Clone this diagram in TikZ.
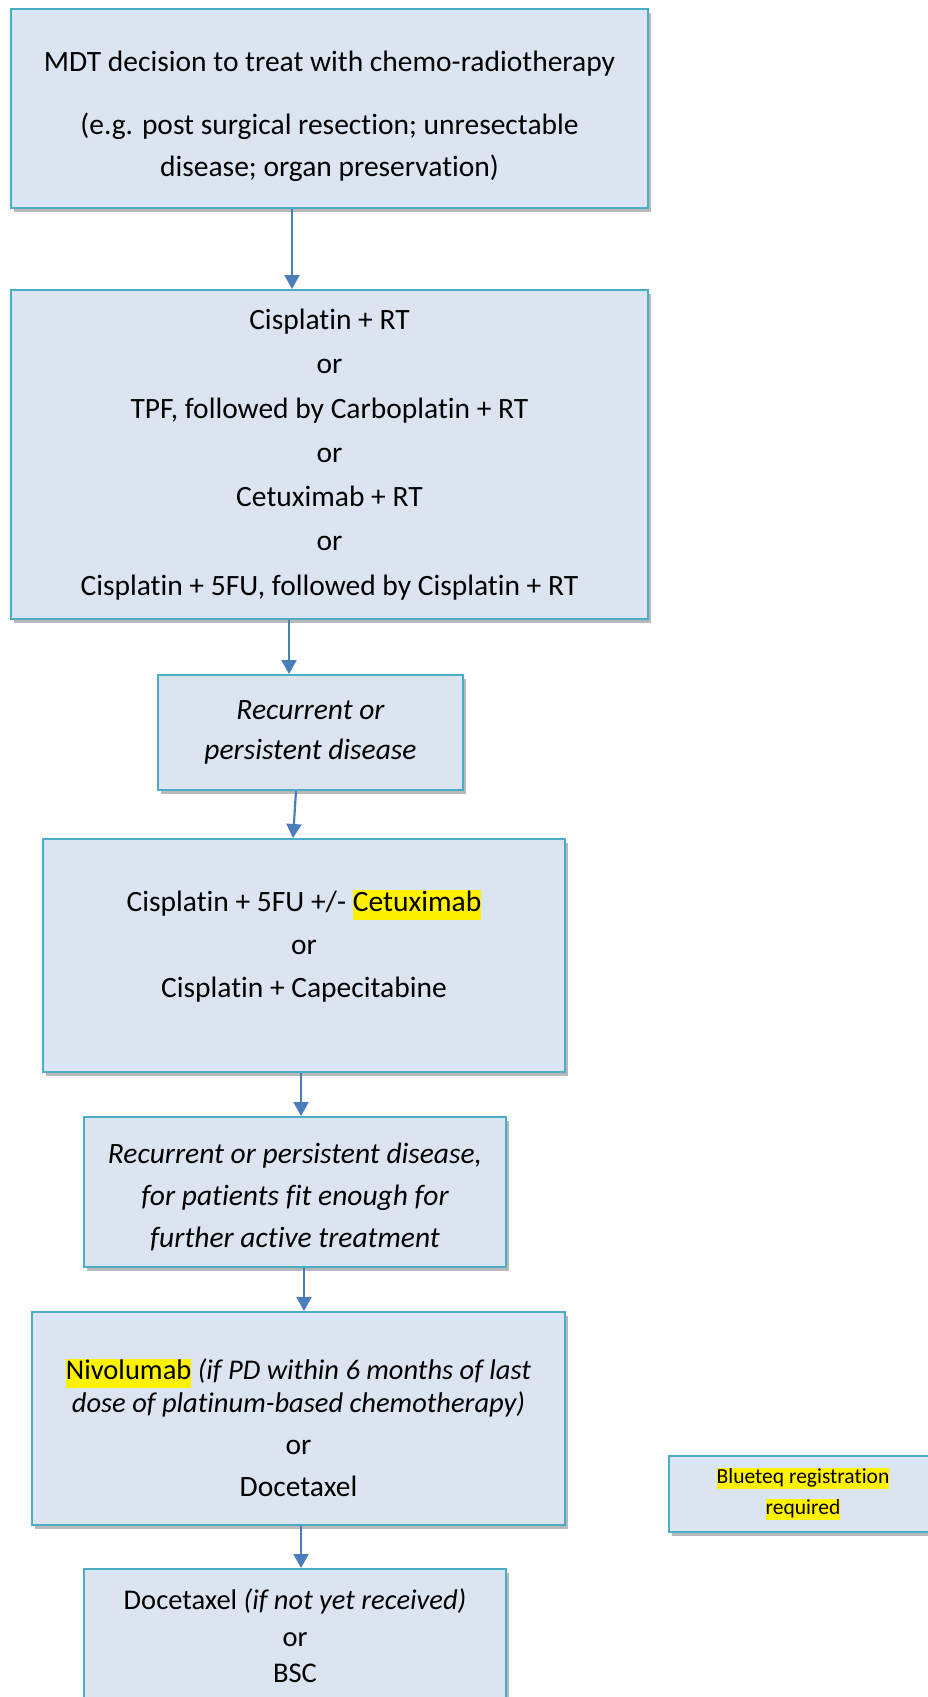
\documentclass[tikz,border=0pt]{standalone}
\usepackage{fontspec}
\setmainfont{Carlito}[Ligatures={NoCommon}]
\usetikzlibrary{arrows.meta,shadows,calc}
\definecolor{boxfill}{HTML}{DBE5F1}
\definecolor{boxline}{HTML}{4BACC6}
\definecolor{arrowblue}{HTML}{4A7EBB}
\newcommand\hlt[1]{\begingroup\setlength\fboxsep{0pt}\colorbox{yellow}{\rule[-0.27em]{0pt}{1.0em}#1}\endgroup}
\begin{document}
\begin{tikzpicture}[x=1pt,y=-1pt,
  flowbox/.style={draw=boxline, line width=2pt, fill=boxfill, align=center, inner sep=0pt,
    drop shadow={shadow xshift=3pt, shadow yshift=-4pt, fill=black!50, opacity=0.55},
    font=\fontsize{29.5}{42}\selectfont},
  arr/.style={draw=arrowblue, line width=2.2pt, -{Triangle[width=15pt,length=14pt]}}]
\useasboundingbox (0,0) rectangle (928,1697);

\node[flowbox, minimum width=637pt, minimum height=199pt] (top) at (329.5,108.5)
  {\mbox{}\\[-5pt]MDT decision to treat with chemo-radiotherapy\\[21pt]
   (e.g. post surgical resection; unresectable\\disease; organ preservation)};

\node[flowbox, minimum width=637pt, minimum height=329pt, font=\fontsize{29.5}{44.3}\selectfont] (b2) at (329.5,454.5)
  {Cisplatin + RT\\or\\TPF, followed by Carboplatin + RT\\or\\Cetuximab + RT\\or\\Cisplatin + 5FU, followed by Cisplatin + RT};

\node[flowbox, minimum width=305pt, minimum height=115pt, font=\fontsize{29.5}{40}\selectfont\itshape] (b3) at (310.5,732.5)
  {Recurrent or\\persistent disease};

\node[flowbox, minimum width=522pt, minimum height=233pt, font=\fontsize{29.5}{43}\selectfont] (b4) at (304,955.5)
  {Cisplatin + 5FU +/- \hlt{Cetuximab}\\or\\Cisplatin + Capecitabine\\[-20pt]\mbox{}};

\node[flowbox, minimum width=422pt, minimum height=150pt, font=\fontsize{29.5}{42}\selectfont\itshape] (b5) at (295,1192)
  {\mbox{}\\[-12pt]Recurrent or persistent disease,\\for patients fit enough for\\further active treatment};

\node[flowbox, minimum width=533pt, minimum height=213pt, font=\fontsize{28.5}{33}\selectfont] (b6) at (298.5,1418.5)
  {\mbox{}\\[7pt]\hlt{Nivolumab} \textit{(if PD within 6 months of last}\\
   \textit{dose of platinum-based chemotherapy)}\\[9pt]{\fontsize{29.5}{33}\selectfont or}\\[9pt]{\fontsize{29.5}{33}\selectfont Docetaxel}};

\node[flowbox, minimum width=422pt, minimum height=134pt, font=\fontsize{28.5}{36.5}\selectfont, anchor=north] (b7) at (295,1568)
  {Docetaxel \textit{(if not yet received)}\\or\\BSC};

\node[flowbox, minimum width=268pt, minimum height=76pt, font=\fontsize{21.5}{31}\selectfont] (blue) at (803,1494)
  {\hlt{Blueteq registration}\\\hlt{required}};

\draw[arr] (top.south -| 292,0) -- (b2.north -| 292,0);
\draw[arr] (b2.south -| 289,0) -- (b3.north -| 289,0);
\draw[arr] (b3.south -| 296,0) -- (b4.north -| 293,0);
\draw[arr] (b4.south -| 301,0) -- (b5.north -| 301,0);
\draw[arr] (b5.south -| 304,0) -- (b6.north -| 304,0);
\draw[arr] (b6.south -| 301,0) -- (b7.north -| 301,0);
\end{tikzpicture}
\end{document}
